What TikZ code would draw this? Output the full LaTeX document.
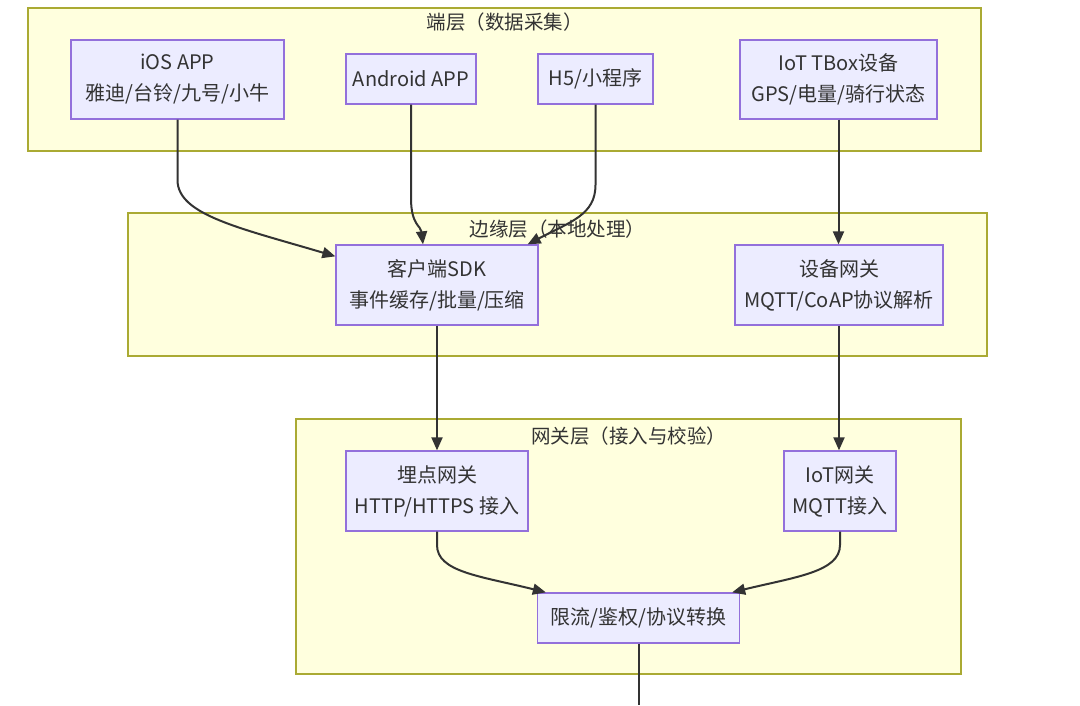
\documentclass[tikz,border=0pt]{standalone}
\usepackage{fontspec}
\setmainfont{Noto Sans CJK SC}
\usetikzlibrary{arrows.meta,calc}
\definecolor{txt}{HTML}{333333}
\definecolor{layerfill}{HTML}{FFFFDE}
\definecolor{layerdraw}{HTML}{AAAA33}
\definecolor{nodefill}{HTML}{ECECFF}
\definecolor{nodedraw}{HTML}{9370DB}
\definecolor{edge}{HTML}{333333}
\tikzset{
  layerbox/.style={fill=layerfill,draw=layerdraw,line width=1.3pt},
  layertitle/.style={text=txt,font=\fontsize{19.5}{22}\selectfont,inner sep=0pt},
  procbox/.style={rectangle,fill=nodefill,draw=nodedraw,line width=1.3pt,text=txt,
    font=\fontsize{20}{31}\selectfont,align=center,inner sep=0pt,
    minimum width=#1},
  flow/.style={draw=edge,line width=2pt,-{Triangle[length=13pt,width=11pt]}},
  plainflow/.style={draw=edge,line width=2pt}
}
\begin{document}
\begin{tikzpicture}[x=1pt,y=-1pt]
\useasboundingbox (0,0) rectangle (1080,705);
\fill[white] (0,0) rectangle (1080,705);
% layers
\draw[layerbox] (28,8) rectangle (981,151);
\node[layertitle] (t1) at (504.5,22) {端层（数据采集）};
\draw[layerbox] (128,213) rectangle (987,356);
\node[layertitle] (t2) at (557.5,229) {边缘层（本地处理）};
\draw[layerbox] (296,419) rectangle (961,674);
\node[layertitle] (t3) at (628.5,436) {网关层（接入与校验）};
% nodes
\node[procbox=213pt,minimum height=79pt] (ios) at (177.5,79.5) {iOS APP\\雅迪/台铃/九号/小牛};
\node[procbox=130pt,minimum height=50pt] (android) at (411,79) {Android APP};
\node[procbox=115pt,minimum height=50pt] (h5) at (595.5,79) {H5/小程序};
\node[procbox=197pt,minimum height=79pt] (tbox) at (838.5,79.5) {IoT TBox设备\\GPS/电量/骑行状态};
\node[procbox=202pt,minimum height=80pt] (sdk) at (437,285) {客户端SDK\\事件缓存/批量/压缩};
\node[procbox=208pt,minimum height=80pt] (devgw) at (839,285) {设备网关\\MQTT/CoAP协议解析};
\node[procbox=182pt,minimum height=80pt] (mdgw) at (437,491) {埋点网关\\HTTP/HTTPS 接入};
\node[procbox=112pt,minimum height=80pt] (iotgw) at (840,491) {IoT网关\\MQTT接入};
\node[procbox=202pt,minimum height=50pt] (limit) at (638.5,618) {限流/鉴权/协议转换};
\coordinate (out) at (638.5,705);
% edges
\draw[flow] (ios.south) -- (177.5,180) .. controls (177.5,215) and (240,228) .. ($(sdk.north west)+(0,12)$);
\draw[flow] (android.south) -- (411,198) .. controls (411,225) and (421,226) .. ($(sdk.north)+(-14,0)$);
\draw[flow] (h5.south) -- (595.5,185) .. controls (595.5,215) and (570,222) .. ($(sdk.north east)+(-11,0)$);
\draw[flow] (tbox.south) -- (tbox.south |- devgw.north);
\draw[flow] (sdk.south) -- (mdgw.north);
\draw[flow] (devgw.south) -- (devgw.south |- iotgw.north);
\draw[flow] (mdgw.south) -- (437,545) .. controls (437,572) and (480,576) .. ($(limit.north west)+(9,0)$);
\draw[flow] (iotgw.south) -- (840,545) .. controls (840,572) and (795,577) .. ($(limit.north east)+(-8,0)$);
\draw[plainflow] (limit.south) -- (out);
\end{tikzpicture}
\end{document}
